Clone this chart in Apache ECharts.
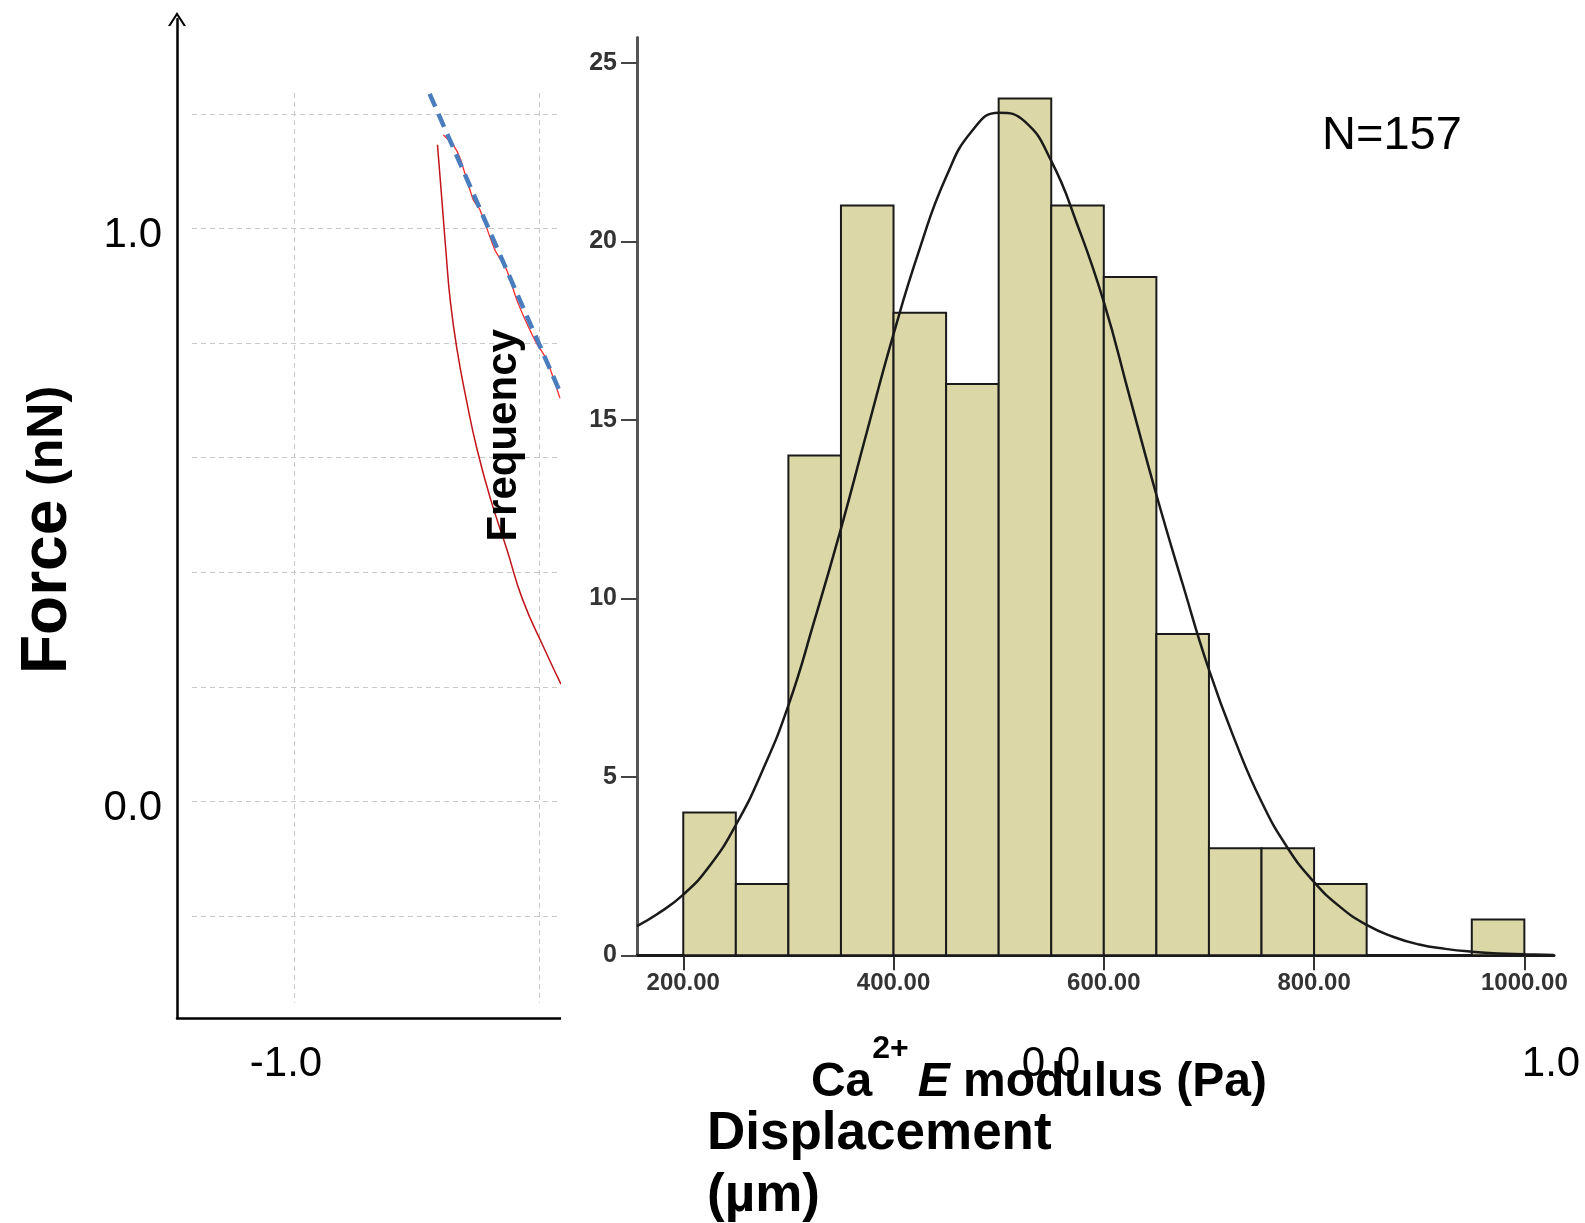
<!DOCTYPE html>
<html><head><meta charset="utf-8">
<script src="https://cdn.jsdelivr.net/npm/echarts@6/dist/echarts.min.js"></script>
<style>
html,body{margin:0;padding:0;background:#fff;width:1585px;height:1223px;overflow:hidden}
#a,#b{position:absolute;left:0;top:0;width:1585px;height:1223px}
#a{z-index:1}#b{z-index:2}
</style></head>
<body><div id="a"></div><div id="b"></div>
<script>
// ---------- Left panel: force vs displacement ----------
const approachX = [-0.707,-0.698,-0.690,-0.681,-0.667,-0.648,-0.626,-0.598,-0.565,-0.533,-0.488,-0.455];
const approachY = [1.146,1.050,0.963,0.875,0.788,0.701,0.614,0.526,0.439,0.352,0.265,0.205];
const retractX = [-0.695,-0.675,-0.661,-0.634,-0.620,-0.590,-0.566,-0.545,-0.525,-0.505,-0.484,-0.457];
const retractY = [1.163,1.146,1.123,1.050,1.032,0.963,0.928,0.875,0.835,0.800,0.771,0.704];
const fitX = [-0.723,-0.455];
const fitY = [1.235,0.711];
const leftYGridValues = [-0.2,0,0.2,0.4,0.6,0.8,1.0,1.2];
const leftXGridValues = [-1.0,-0.5];
const leftYLabelValues = [0,1];
const leftXTickLabels = ['-1.0','0.0','1.0'];

// ---------- Right panel: histogram ----------
const binStart = [200,250,300,350,400,450,500,550,600,650,700,750,800,850,900,950];
const binEnd   = [250,300,350,400,450,500,550,600,650,700,750,800,850,900,950,1000];
const counts   = [4,2,14,21,18,16,24,21,19,9,3,3,2,0,0,1];
const curveX = [156,175,200,225,250,275,300,325,350,375,400,425,450,475,500,525,550,575,600,625,650,675,700,725,750,775,800,825,850,875,900,925,950,975,1000,1028];
const curveY = [0.82,1.15,1.7,2.5,3.65,5.15,7.0,9.4,11.95,14.7,17.4,19.8,21.8,23.1,23.6,23.35,22.25,20.45,18.3,15.6,12.9,10.4,8.0,6.0,4.3,3.0,2.05,1.35,0.85,0.52,0.3,0.18,0.1,0.05,0.03,0.01];
const histXTicks = [200,400,600,800,1000];
const histYTicks = [0,5,10,15,20,25];
const annotation = 'N=157';

const F = "'Liberation Sans', Arial, sans-serif";
const zip = (a,b) => a.map((v,i)=>[v,b[i]]);
const ARROW = 'path://M0,14 L9,0 L18,14 L15.6,14 L9,3.8 L2.4,14 Z';

const chartA = echarts.init(document.getElementById('a'), null, {renderer:'canvas'});
chartA.setOption({
  animation:false,
  backgroundColor:'#fff',
  textStyle:{fontFamily:F},
  grid:[
    {left:177, top:19, width:1060, height:999, outerBoundsMode:'none'},
    {left:192, top:93, width:408, height:910, outerBoundsMode:'none'}
  ],
  xAxis:[
    {gridIndex:0, type:'value', min:0, max:1,
     axisLine:{show:true, onZero:false, lineStyle:{color:'#000', width:2.5}},
     axisTick:{show:false}, axisLabel:{show:false}, splitLine:{show:false},
     name:'Displacement\n(µm)', nameLocation:'middle', nameGap:85, nameMoveOverlap:false,
     nameTextStyle:{align:'left', fontSize:53, fontWeight:'bold', lineHeight:62, color:'#000', fontFamily:F}},
    {gridIndex:1, type:'value', min:-1.208, max:-0.3753,
     axisLine:{show:false}, axisTick:{show:false, customValues:leftXGridValues}, axisLabel:{show:false},
     splitLine:{show:true, lineStyle:{color:'#c8c8c8', type:[5,4], width:1}}}
  ],
  yAxis:[
    {gridIndex:0, type:'value', min:-0.3776, max:1.3656,
     axisLine:{show:true, onZero:false, symbol:['none', ARROW], symbolSize:[18,14], lineStyle:{color:'#000', width:2.5}},
     axisTick:{show:false, customValues:leftYLabelValues},
     axisLabel:{customValues:leftYLabelValues, formatter:v=>v.toFixed(1), fontSize:42, color:'#000', margin:15,
       verticalAlign:'top', lineHeight:14, fontFamily:F},
     splitLine:{show:false},
     name:'{f|Force} {n|(nN)}', nameLocation:'middle', nameGap:97, nameMoveOverlap:false,
     nameTextStyle:{fontFamily:F, fontWeight:'bold', fontSize:50, color:'#000', padding:[0,23,0,0],
       rich:{f:{fontSize:64, fontWeight:'bold', fontFamily:F, color:'#000'}, n:{fontSize:50, fontWeight:'bold', fontFamily:F, color:'#000'}}}},
    {gridIndex:1, type:'value', min:-0.3514, max:1.2364,
     axisLine:{show:false}, axisTick:{show:false, customValues:leftYGridValues}, axisLabel:{show:false},
     splitLine:{show:true, lineStyle:{color:'#c8c8c8', type:[5,4], width:1}}}
  ],
  graphic: leftXTickLabels.map((t,i)=>({
    type:'text', x:[286,1051,1551][i], y:1064,
    style:{text:t, fontSize:42, fontFamily:F, fill:'#000', align:'center', verticalAlign:'middle'}
  })),
  series:[
    {type:'line', xAxisIndex:1, yAxisIndex:1, data:zip(approachX, approachY), smooth:true, showSymbol:false,
     lineStyle:{color:'#c0141a', width:1.5}, z:3},
    {type:'line', xAxisIndex:1, yAxisIndex:1, data:zip(retractX, retractY), smooth:0.2, showSymbol:false,
     lineStyle:{color:'#ff2a2a', width:1.3}, z:3},
    {type:'line', xAxisIndex:1, yAxisIndex:1, data:zip(fitX, fitY), showSymbol:false,
     lineStyle:{color:'#4a7dbd', width:4.5, type:[14,8]}, z:4}
  ]
});

const chartB = echarts.init(document.getElementById('b'), null, {renderer:'canvas'});
chartB.setOption({
  animation:false,
  backgroundColor:'transparent',
  textStyle:{fontFamily:F},
  graphic:[
    {type:'rect', z:-10, silent:true, shape:{x:561, y:0, width:1030, height:1026}, style:{fill:'#fff'}},
    {type:'text', x:1322, y:136, style:{text:annotation, fontSize:47, fontFamily:F, fill:'#000', align:'left', verticalAlign:'middle'}}
  ],
  grid:{left:637, top:37.4, width:917, height:917.9, outerBoundsMode:'none'},
  xAxis:{type:'value', min:156, max:1028.2,
    axisLine:{show:true, onZero:false, lineStyle:{color:'#1a1a1a', width:3}},
    axisTick:{show:true, customValues:histXTicks, length:15, lineStyle:{color:'#333', width:2}},
    axisLabel:{customValues:histXTicks, formatter:v=>v.toFixed(2), fontSize:24, fontWeight:'bold', color:'#333', margin:16, fontFamily:F},
    splitLine:{show:false},
    name:'{a|Ca}{s|2+ }{e|E}{a| modulus (Pa)}', nameLocation:'middle', nameGap:78, nameMoveOverlap:false,
    nameTextStyle:{fontFamily:F, fontWeight:'bold', fontSize:48, color:'#000', padding:[0,113,0,0],
      rich:{
        a:{fontSize:48, fontWeight:'bold', fontFamily:F, color:'#000', lineHeight:99},
        s:{fontSize:32, fontWeight:'bold', fontFamily:F, color:'#000', lineHeight:32, verticalAlign:'top'},
        e:{fontSize:48, fontWeight:'bold', fontStyle:'italic', fontFamily:F, color:'#000', lineHeight:99}
      }}},
  yAxis:{type:'value', min:0, max:25.71,
    axisLine:{show:true, onZero:false, lineStyle:{color:'#555', width:3}},
    axisTick:{show:true, customValues:histYTicks, length:16, lineStyle:{color:'#444', width:2}},
    axisLabel:{customValues:histYTicks, fontSize:25, fontWeight:'bold', color:'#333', margin:20, fontFamily:F},
    splitLine:{show:false},
    name:'Frequency', nameLocation:'middle', nameGap:112, nameMoveOverlap:false,
    nameTextStyle:{fontSize:42, fontWeight:'bold', color:'#000', fontFamily:F, padding:[0,0,0,122]}},
  series:[
    {type:'custom', data:binStart.map((s,i)=>[s, binEnd[i], counts[i]]),
     encode:{x:[0,1], y:2},
     renderItem:function(params, api){
       const c = api.value(2);
       if (!c) return null;
       const p0 = api.coord([api.value(0), c]);
       const p1 = api.coord([api.value(1), 0]);
       return {type:'rect', shape:{x:p0[0], y:p0[1], width:p1[0]-p0[0], height:p1[1]-p0[1]},
               style:{fill:'#dcd7a7', stroke:'#1a1a1a', lineWidth:2}};
     }, z:2},
    {type:'line', data:zip(curveX, curveY), smooth:true, showSymbol:false,
     lineStyle:{color:'#1a1a1a', width:2.5}, z:3}
  ]
});
</script>
</body></html>
